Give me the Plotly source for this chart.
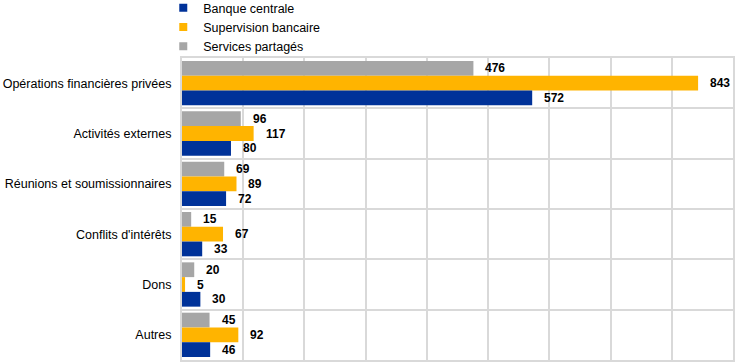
import plotly.graph_objects as go

categories = ["Opérations financières privées", "Activités externes",
              "Réunions et soumissionnaires", "Conflits d'intérêts", "Dons", "Autres"]
series_names = ["Banque centrale", "Supervision bancaire", "Services partagés"]
banque_centrale = [572, 80, 72, 33, 30, 46]
supervision_bancaire = [843, 117, 89, 67, 5, 92]
services_partages = [476, 96, 69, 15, 20, 45]
x_ticks = [0, 100, 200, 300, 400, 500, 600, 700, 800, 900]

colors = {"Banque centrale": "#003299", "Supervision bancaire": "#FFB400",
          "Services partagés": "#A6A6A6"}
values = {"Banque centrale": banque_centrale,
          "Supervision bancaire": supervision_bancaire,
          "Services partagés": services_partages}

FONT = "Liberation Sans, Arial, sans-serif"
BARGAP = 0.12
fig = go.Figure()

# bars: with reversed y axis, first trace sits at top of each group
order = ["Services partagés", "Supervision bancaire", "Banque centrale"]
for name in order:
    fig.add_trace(go.Bar(name=name, y=categories, x=values[name], orientation="h",
                         marker=dict(color=colors[name], line=dict(width=0)),
                         showlegend=False, hoverinfo="x+y"))

# legend entries with small square markers
for name in series_names:
    fig.add_trace(go.Scatter(x=[None], y=[None], mode="markers", name=name,
                             marker=dict(symbol="square", size=8, color=colors[name])))

fig.update_layout(barmode="group", bargap=BARGAP, bargroupgap=0)

# data labels
n = len(series_names)
width = (1 - BARGAP) / n
for gi, name in enumerate(order):
    for ci, cat in enumerate(categories):
        v = values[name][ci]
        ypos = ci - (1 - BARGAP) / 2 + width * (gi + 0.5)
        fig.add_annotation(x=v, y=ypos, yref="y", xref="x", text=f"<b>{v}</b>",
                           showarrow=False, xanchor="left", yanchor="middle", xshift=10,
                           font=dict(family=FONT, size=12, color="#000000"))

fig.update_xaxes(range=[0, 900], tickvals=x_ticks, showticklabels=False,
                 showgrid=True, gridcolor="#D9D9D9", gridwidth=2, zeroline=False,
                 showline=True, linecolor="#D9D9D9", linewidth=2, mirror=True, ticks="")
fig.update_yaxes(autorange="reversed", tickson="boundaries", showgrid=True,
                 gridcolor="#D9D9D9", gridwidth=2, showline=True, linecolor="#D9D9D9",
                 linewidth=2, mirror=True, ticks="", ticklabelstandoff=6,
                 tickfont=dict(family=FONT, size=12.5, color="#000000"))

fig.update_layout(
    width=744, height=362,
    margin=dict(l=182, r=11, t=58, b=2, pad=0, autoexpand=False),
    plot_bgcolor="white", paper_bgcolor="white",
    font=dict(family=FONT, size=12.5, color="#000000"),
    legend=dict(x=-0.034, xanchor="left", y=1.215, yanchor="top",
                font=dict(family=FONT, size=12.5, color="#000000"),
                bgcolor="rgba(0,0,0,0)", borderwidth=0, tracegroupgap=0,
                itemclick=False),
    showlegend=True,
)

fig.write_html("out.html", config={"displayModeBar": False},
               post_script="document.body.style.margin='0';document.body.style.overflow='hidden';")
